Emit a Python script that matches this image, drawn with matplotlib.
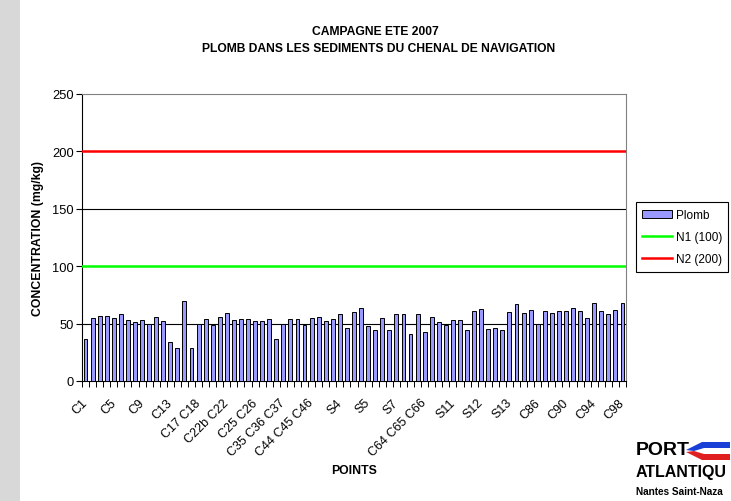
import numpy as np
import matplotlib.pyplot as plt
import matplotlib.transforms as mtransforms
from matplotlib.patches import Rectangle, Polygon
from matplotlib.lines import Line2D

plt.rcParams['font.family'] = ['Liberation Sans', 'DejaVu Sans']

# Points de prelevement (seul un libelle sur 4 est affiche sur l'axe)
points = (['C%d' % i for i in range(1, 17)] +
          ['C17 C18', 'C19', 'C20', 'C21',
           'C22b C22', 'C23', 'C24', 'C24b',
           'C25 C26', 'C27 C28', 'C29 C30', 'C31 C32 C33',
           'C35 C36 C37', 'C38 C39', 'C40 C41', 'C42 C43',
           'C44 C45 C46', 'C47 C48', 'S2', 'S3',
           'S4', 'C50', 'C51', 'C52',
           'S5', 'C53', 'S6', 'C54',
           'S7', 'C58 C59', 'C60 C61', 'C62 C63',
           'C64 C65 C66', 'S8', 'S9', 'S10',
           'S11', 'C67', 'C68', 'C69',
           'S12', 'C70', 'C71', 'C72',
           'S13', 'C83', 'C84', 'C85'] +
          ['C%d' % i for i in range(86, 99)])

# Concentration en plomb (mg/kg)
plomb = [37, 55, 57, 57, 55, 58, 53, 51, 53, 50, 56, 52, 34, 29, 70, 29,
         50, 54, 49, 56, 59, 53, 54, 54, 52, 52, 54, 37, 50, 54, 54, 49,
         55, 56, 52, 54, 58, 46, 60, 64, 48, 44, 55, 44, 58, 58, 41, 58,
         43, 56, 51, 49, 53, 53, 44, 61, 63, 45, 46, 44, 60, 67, 59, 62,
         50, 61, 59, 61, 61, 64, 61, 55, 68, 61, 58, 62, 68]

# Seuils reglementaires
N1 = 100
N2 = 200

fig = plt.figure(figsize=(7.31, 5.02), dpi=100)
fig.patch.set_facecolor('white')
fig.patches.append(Rectangle((0, 0), 20 / 731, 1, transform=fig.transFigure,
                             facecolor='#d8d8d8', edgecolor='none', zorder=0))

ax = fig.add_axes([82 / 731, 1 - 382 / 502, 544 / 731, 287 / 502])

x = np.arange(len(points))
ax.bar(x, plomb, width=0.55, color='#9999FF', edgecolor='black',
       linewidth=0.7, zorder=3)
ax.axhline(N1, color='#00FF00', lw=1.8, zorder=4)
ax.axhline(N2, color='#FF0000', lw=1.8, zorder=4)

for g in [50, 150]:
    ax.axhline(g, color='black', lw=0.8, zorder=1)

ax.set_xlim(-0.5, len(points) - 0.5)
ax.set_ylim(0, 250)
ax.set_yticks(range(0, 251, 50))
ax.tick_params(axis='y', direction='out', length=4, width=0.8,
               labelsize=9.3, pad=2)

ax.set_xticks(x[::4])
ax.set_xticklabels(points[::4], rotation=45, ha='right',
                   rotation_mode='anchor', fontsize=9)
ax.set_xticks(np.arange(-0.5, len(points), 1), minor=True)
ax.tick_params(axis='x', which='major', length=0, pad=11)
ax.tick_params(axis='x', which='minor', direction='out', length=4, width=0.7)
shift = mtransforms.ScaledTranslation(-4 / 100, 0, fig.dpi_scale_trans)
for lab in ax.get_xticklabels():
    lab.set_transform(lab.get_transform() + shift)

for side in ['top', 'right']:
    ax.spines[side].set_color('#808080')
ax.spines['left'].set_color('black')
ax.spines['bottom'].set_color('black')

ax.set_ylabel('CONCENTRATION (mg/kg)', fontsize=8.8, fontweight='bold',
              labelpad=6)
fig.text(354 / 731, 1 - 471 / 502, 'POINTS', fontsize=8.8,
         fontweight='bold', ha='center', va='center')

fig.text(375 / 731, 1 - 32 / 502, 'CAMPAGNE ETE 2007', fontsize=8.7,
         fontweight='bold', ha='center', va='center')
fig.text(379 / 731, 1 - 49 / 502,
         'PLOMB DANS LES SEDIMENTS DU CHENAL DE NAVIGATION', fontsize=8.7,
         fontweight='bold', ha='center', va='center')

handles = [Rectangle((0, 0), 1, 1, facecolor='#9999FF', edgecolor='black',
                     linewidth=0.7),
           Line2D([], [], color='#00FF00', lw=1.8),
           Line2D([], [], color='#FF0000', lw=1.8)]
leg = fig.legend(handles, ['Plomb', 'N1 (100)', 'N2 (200)'],
                 loc='center left', bbox_to_anchor=(636 / 731, 1 - 238 / 502),
                 fontsize=8.5, frameon=True, fancybox=False, edgecolor='black',
                 framealpha=1, handlelength=2.5, labelspacing=0.85,
                 borderpad=0.55, handletextpad=0.3, borderaxespad=0)
leg.get_frame().set_linewidth(0.8)

# logo Port Atlantique (coupe au bord comme sur l'original)
fig.text(636 / 731, 1 - 451 / 502, 'PORT', fontsize=14, fontweight='bold',
         ha='left', va='center')
fig.text(636 / 731, 1 - 472 / 502, 'ATLANTIQU', fontsize=11.5,
         fontweight='bold', ha='left', va='center')
fig.text(636 / 731, 1 - 492 / 502, 'Nantes Saint-Naza', fontsize=7.2,
         fontweight='bold', ha='left', va='center')
fig.patches.append(Polygon([(686 / 731, 1 - 451 / 502), (702 / 731, 1 - 443 / 502),
                            (730 / 731, 1 - 443 / 502), (730 / 731, 1 - 449 / 502),
                            (704 / 731, 1 - 449 / 502), (694 / 731, 1 - 452 / 502)],
                           closed=True, transform=fig.transFigure,
                           facecolor='#1a3fd6', edgecolor='none'))
fig.patches.append(Polygon([(686 / 731, 1 - 453 / 502), (702 / 731, 1 - 461 / 502),
                            (730 / 731, 1 - 461 / 502), (730 / 731, 1 - 455 / 502),
                            (704 / 731, 1 - 455 / 502), (694 / 731, 1 - 452 / 502)],
                           closed=True, transform=fig.transFigure,
                           facecolor='#e02020', edgecolor='none'))

fig.savefig('out.png', dpi=100)
